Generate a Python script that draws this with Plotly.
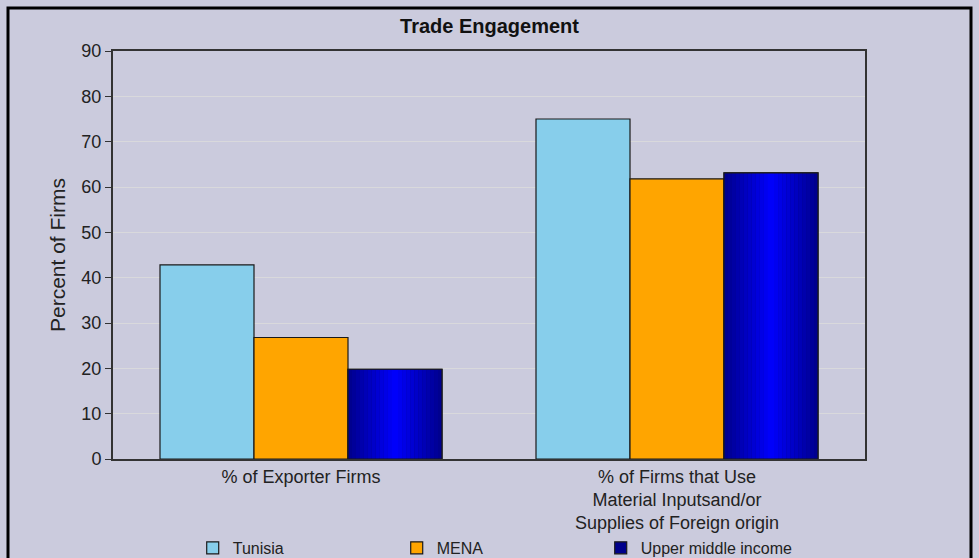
import plotly.graph_objects as go

CATEGORIES = [
    "% of Exporter Firms",
    "% of Firms that Use<br>Material Inputsand/or<br>Supplies of Foreign origin",
]
TUNISIA = [42.8, 75.0]
MENA = [26.8, 61.8]
UPPER_MIDDLE = [19.8, 63.1]

BG = "#CBCBDD"
FONT = "Liberation Sans, Arial, sans-serif"

x_pos = list(range(len(CATEGORIES)))
bar_w = 0.25
line = dict(color="#1a1a1a", width=1.2)

fig = go.Figure()
fig.add_trace(go.Bar(name="Tunisia", x=x_pos, y=TUNISIA, width=bar_w, offset=-0.375,
                     marker=dict(color="#87CEEB", line=line)))
fig.add_trace(go.Bar(name="MENA", x=x_pos, y=MENA, width=bar_w, offset=-0.125,
                     marker=dict(color="#FFA500", line=line)))
fig.add_trace(go.Bar(name="Upper middle income", x=x_pos, y=UPPER_MIDDLE, width=bar_w, offset=0.125,
                     marker=dict(color="#00008B", line=line)))

# horizontal gradient on the dark blue bars: narrow strips, bright in the middle
n_strips = 24
for i in range(n_strips):
    t = (i + 0.5) / n_strips
    k = 1 - abs(2 * t - 1)  # 0 at edges, 1 at centre
    b = int(139 + (255 - 139) * k)
    fig.add_trace(go.Bar(x=x_pos, y=UPPER_MIDDLE, width=bar_w / n_strips,
                         offset=0.125 + i * bar_w / n_strips,
                         marker=dict(color=f"rgb(0,0,{b})", line=dict(width=0)),
                         showlegend=False, hoverinfo="skip"))
fig.add_trace(go.Bar(x=x_pos, y=UPPER_MIDDLE, width=bar_w, offset=0.125,
                     marker=dict(color="rgba(0,0,0,0)", line=line),
                     showlegend=False, hoverinfo="skip"))

fig.update_layout(
    width=979,
    height=558,
    barmode="overlay",
    paper_bgcolor=BG,
    plot_bgcolor=BG,
    margin=dict(l=113, r=114, t=51, b=99),
    font=dict(family=FONT, size=17, color="#222222"),
    title=dict(text="<b>Trade Engagement</b>", x=0.5, xanchor="center",
               y=(558 - 26) / 558, yanchor="middle",
               font=dict(family=FONT, size=20, color="#111111")),
    xaxis=dict(
        range=[-0.5, 1.5],
        tickmode="array",
        tickvals=x_pos,
        ticktext=CATEGORIES,
        showgrid=False,
        showline=True,
        linecolor="#333333",
        linewidth=2,
        mirror=True,
        ticks="",
        tickfont=dict(size=18),
        automargin=False,
    ),
    yaxis=dict(
        range=[0, 90],
        dtick=10,
        title=dict(text="Percent of Firms", font=dict(size=21), standoff=10),
        showgrid=True,
        gridcolor="#D9D9DC",
        gridwidth=1,
        showline=True,
        linecolor="#333333",
        linewidth=2,
        mirror=True,
        ticks="outside",
        ticklen=6,
        tickcolor="#333333",
        tickfont=dict(size=18),
        zeroline=False,
        automargin=False,
    ),
    legend=dict(
        orientation="h",
        x=0.106,
        xanchor="left",
        yref="container",
        y=0.018,
        yanchor="middle",
        entrywidth=159,
        bgcolor="rgba(0,0,0,0)",
        font=dict(size=16),
    ),
    shapes=[
        dict(type="rect", xref="paper", yref="paper",
             x0=(8 - 113) / 752, x1=(971 - 113) / 752,
             y0=-0.4, y1=(459 - 8) / 408,
             line=dict(color="#000000", width=3), fillcolor="rgba(0,0,0,0)", layer="below"),
    ],
)

fig.write_html("out.html", config={"displayModeBar": False},
               post_script="document.body.style.margin='0';")
